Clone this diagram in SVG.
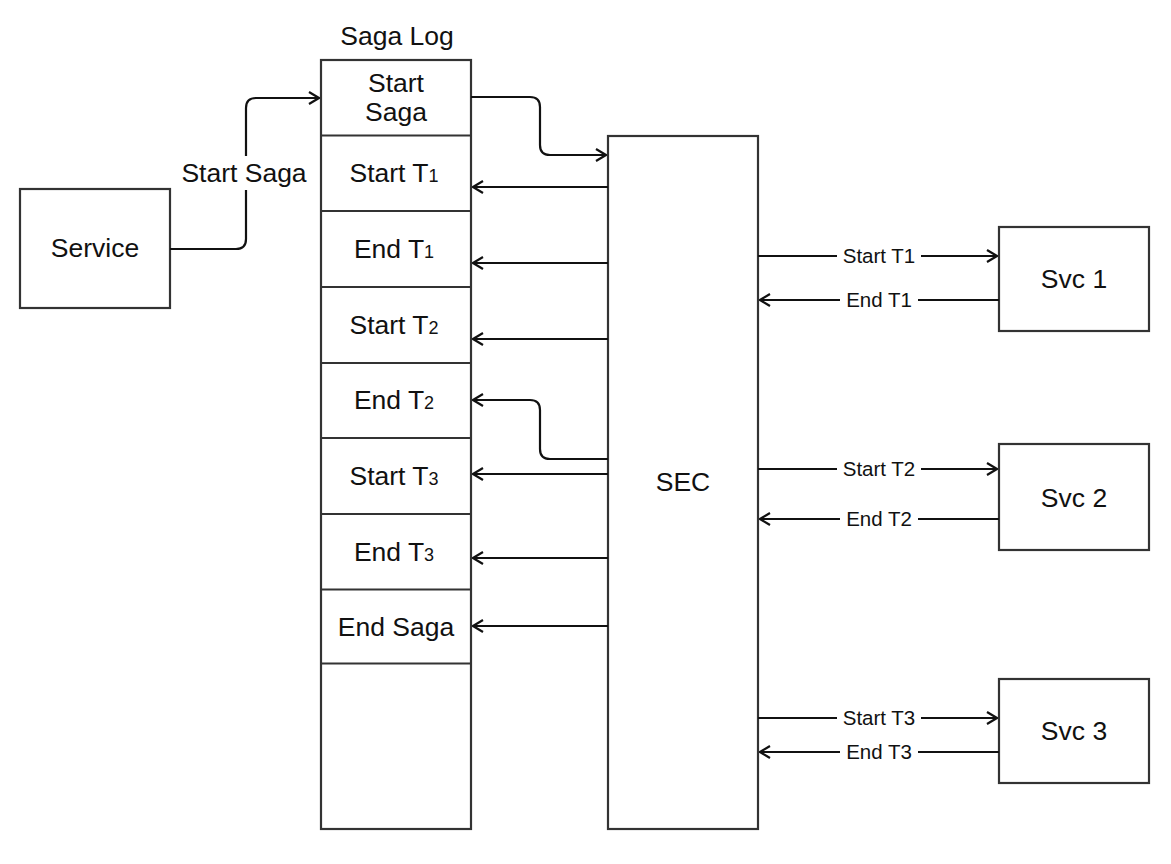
<svg xmlns="http://www.w3.org/2000/svg" width="1171" height="864" viewBox="0 0 1171 864">
<style>
.box{fill:#fff;stroke:#333;stroke-width:2.2}
.t{font-family:"Liberation Sans",Arial,sans-serif;font-size:26.5px;fill:#111;text-anchor:middle}
.s{font-size:18px}
.e{font-family:"Liberation Sans",Arial,sans-serif;font-size:20.5px;fill:#111;text-anchor:middle}
.c{fill:none;stroke:#111;stroke-width:2.2}
.lb{fill:#fff}
</style>
<defs>
<marker id="a" viewBox="0 0 12 14" refX="11" refY="7" markerWidth="12" markerHeight="14" markerUnits="userSpaceOnUse" orient="auto">
<path d="M1,1 L11,7 L1,13" fill="none" stroke="#111" stroke-width="2.2"/>
</marker>
</defs>
<rect width="1171" height="864" fill="#fff"/>
<g id="service"><rect class="box" x="20" y="189" width="150" height="119"/><text class="t" x="95" y="257">Service</text></g>
<g id="saga-log">
<text class="t" x="397" y="45">Saga Log</text>
<rect class="box" x="321" y="60" width="150" height="769"/>
<path class="box" d="M321,135.5H471M321,211H471M321,287H471M321,363H471M321,438H471M321,514H471M321,589.5H471M321,663.5H471"/>
<text class="t" x="396" y="92">Start</text><text class="t" x="396" y="121">Saga</text>
<text class="t" x="394" y="182">Start T<tspan class="s">1</tspan></text>
<text class="t" x="394" y="258">End T<tspan class="s">1</tspan></text>
<text class="t" x="394" y="334">Start T<tspan class="s">2</tspan></text>
<text class="t" x="394" y="409">End T<tspan class="s">2</tspan></text>
<text class="t" x="394" y="485">Start T<tspan class="s">3</tspan></text>
<text class="t" x="394" y="561">End T<tspan class="s">3</tspan></text>
<text class="t" x="396" y="636">End Saga</text>
</g>
<g id="sec"><rect class="box" x="608" y="136" width="150" height="693"/><text class="t" x="683" y="491">SEC</text></g>
<g id="svc1"><rect class="box" x="999" y="227" width="150" height="104"/><text class="t" x="1074" y="288">Svc 1</text></g>
<g id="svc2"><rect class="box" x="999" y="444" width="150" height="106"/><text class="t" x="1074" y="507">Svc 2</text></g>
<g id="svc3"><rect class="box" x="999" y="679" width="150" height="104"/><text class="t" x="1074" y="740">Svc 3</text></g>
<g id="connectors">
<path class="c" d="M170,249H236Q246,249 246,239V108Q246,98 256,98H319" marker-end="url(#a)"/>
<rect class="lb" x="178" y="156" width="134" height="34"/>
<text class="t" x="244" y="182">Start Saga</text>
<path class="c" d="M471,97H530Q540,97 540,107V145Q540,155 550,155H606" marker-end="url(#a)"/>
<path class="c" d="M608,187H473" marker-end="url(#a)"/>
<path class="c" d="M608,263H473" marker-end="url(#a)"/>
<path class="c" d="M608,339H473" marker-end="url(#a)"/>
<path class="c" d="M608,459H550Q540,459 540,449V410Q540,400 530,400H473" marker-end="url(#a)"/>
<path class="c" d="M608,474H473" marker-end="url(#a)"/>
<path class="c" d="M608,558H473" marker-end="url(#a)"/>
<path class="c" d="M608,626H473" marker-end="url(#a)"/>
<path class="c" d="M758,256H997" marker-end="url(#a)"/>
<path class="c" d="M999,300H760" marker-end="url(#a)"/>
<path class="c" d="M758,469H997" marker-end="url(#a)"/>
<path class="c" d="M999,519H760" marker-end="url(#a)"/>
<path class="c" d="M758,718H997" marker-end="url(#a)"/>
<path class="c" d="M999,752H760" marker-end="url(#a)"/>
<rect class="lb" x="837" y="245" width="84" height="22"/><text class="e" x="879" y="263">Start T1</text>
<rect class="lb" x="840" y="289" width="78" height="22"/><text class="e" x="879" y="307">End T1</text>
<rect class="lb" x="837" y="458" width="84" height="22"/><text class="e" x="879" y="476">Start T2</text>
<rect class="lb" x="840" y="508" width="78" height="22"/><text class="e" x="879" y="526">End T2</text>
<rect class="lb" x="837" y="707" width="84" height="22"/><text class="e" x="879" y="725">Start T3</text>
<rect class="lb" x="840" y="741" width="78" height="22"/><text class="e" x="879" y="759">End T3</text>
</g>
</svg>
